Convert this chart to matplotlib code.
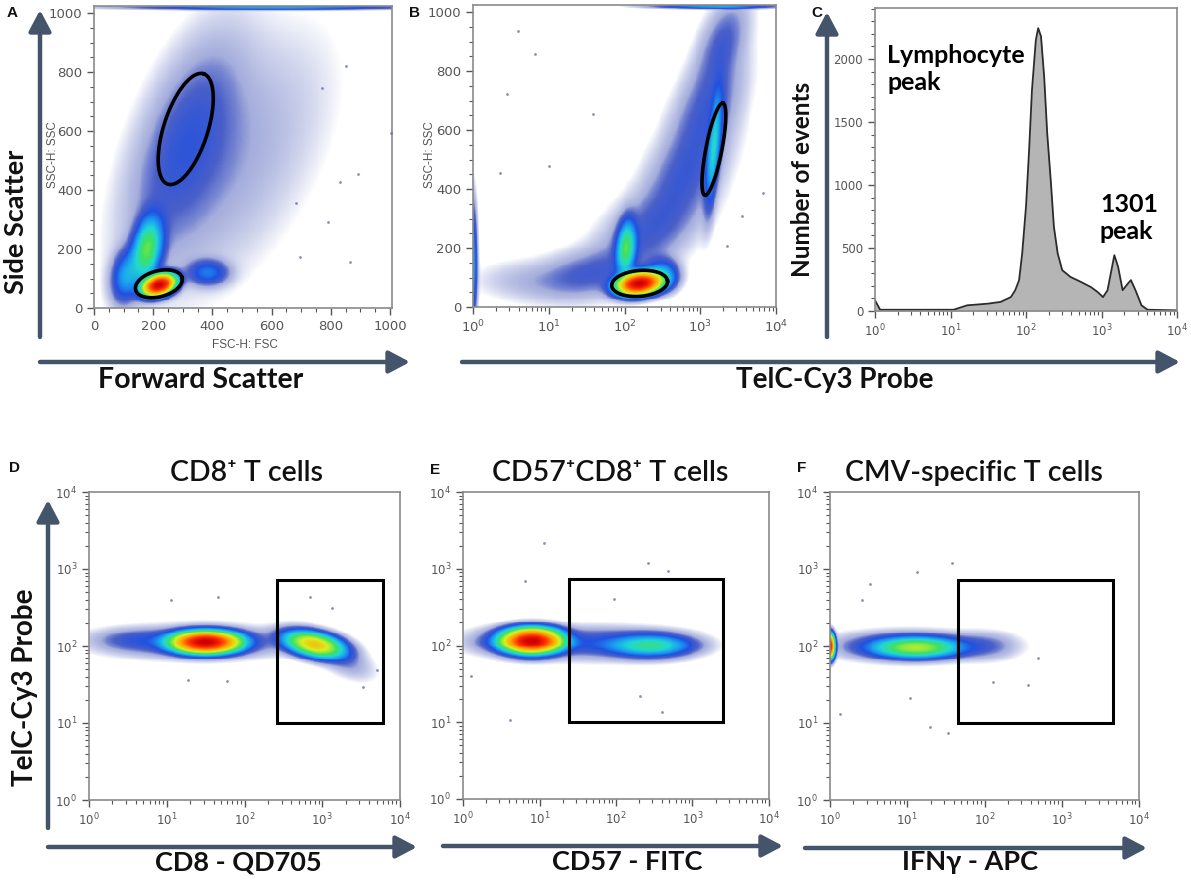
import numpy as np
import matplotlib.pyplot as plt
from matplotlib.colors import LinearSegmentedColormap
from matplotlib.patches import Rectangle
from matplotlib.ticker import MultipleLocator, FixedLocator, LogLocator, NullFormatter

W, H = 1191, 884
FONT = ['Lato', 'DejaVu Sans']
ARROW = '#44546a'
FRAME = '#8a8a8a'
TICKC = '#555555'

# ---------------- data ----------------
# populations: centre x, centre y, spread x, spread y, correlation, relative density
# A: FSC vs SSC (linear units)
a_cx = [220, 180, 110, 385, 310, 460, 600]
a_cy = [78, 200, 110, 120, 560, 480, 1019]
a_sx = [28, 28, 28, 40, 110, 190, 260]
a_sy = [19, 60, 50, 25, 210, 260, 4]
a_rho = [0.3, 0.3, 0.2, 0.0, 0.55, 0.55, 0.0]
a_amp = [1.0, 0.13, 0.045, 0.03, 0.015, 0.006, 0.045]
a_out_x = [683, 792, 865, 696, 831, 893, 1005, 769, 853]
a_out_y = [355, 291, 155, 172, 427, 456, 592, 745, 819]
# gates of A: centre, semi axes (px), angle (deg)
a_gate_cx = [219, 310]
a_gate_cy = [82, 607]
a_gate_a = [24, 58]
a_gate_b = [13, 22]
a_gate_ang = [15, 72]

# B: TelC-Cy3 (log10 units) vs SSC
b_cx = [2.2, 2.02, 2.5, 3.18, 1.5, 2.3, 2.8, 3.1, 3.3, 0.0, 3.2, 0.7]
b_cy = [80, 200, 110, 540, 110, 250, 450, 680, 900, 150, 1019, 90]
b_sx = [0.15, 0.07, 0.12, 0.06, 0.4, 0.4, 0.33, 0.28, 0.2, 0.03, 0.45, 0.4]
b_sy = [20, 50, 30, 110, 50, 90, 110, 110, 90, 110, 4, 40]
b_rho = [0.2, 0.2, 0.0, 0.6, 0.3, 0.5, 0.5, 0.5, 0.5, 0.0, 0.0, 0.0]
b_amp = [1.0, 0.12, 0.045, 0.065, 0.012, 0.012, 0.013, 0.013, 0.012, 0.045, 0.045, 0.004]
b_out_x = [0.6, 1.0, 0.45, 0.36, 1.59, 3.35, 3.55, 3.83, 0.82]
b_out_y = [937, 478, 722, 456, 654, 206, 308, 388, 858]
b_gate_cx = [2.2, 3.18]
b_gate_cy = [80, 535]
b_gate_a = [28, 47]
b_gate_b = [13, 8]
b_gate_ang = [5, 79]

# C: histogram of TelC-Cy3
c_probe = [1.0, 1.17, 11, 16.6, 31, 46, 63, 72, 81, 89, 100, 110, 120, 135, 145,
           158, 174, 191, 214, 234, 263, 302, 389, 537, 724, 891, 1047, 1202,
           1380, 1479, 1660, 1905, 2239, 2455, 2818, 3388, 4074, 10000]
c_events = [85, 10, 10, 45, 58, 72, 110, 165, 245, 456, 828, 1280, 1755, 2150, 2245,
            2180, 1860, 1410, 1015, 670, 456, 324, 270, 230, 190, 150, 110, 165,
            350, 443, 350, 165, 218, 245, 165, 45, 10, 5]

# D: CD8 vs TelC-Cy3 (log10 units both)
d_cx = [1.5, 2.9, 1.4, 3.3, 0.6]
d_cy = [2.05, 2.02, 2.05, 1.8, 2.08]
d_sx = [0.22, 0.2, 0.65, 0.2, 0.3]
d_sy = [0.07, 0.09, 0.11, 0.13, 0.08]
d_rho = [0.0, -0.4, 0.0, -0.5, 0.0]
d_amp = [1.0, 0.3, 0.02, 0.008, 0.01]
d_out_x = [1.06, 1.66, 1.27, 1.77, 2.84, 3.12, 3.53, 3.70]
d_out_y = [2.6, 2.64, 1.56, 1.54, 2.64, 2.49, 1.47, 1.69]
d_gate = [265, 6100, 10, 710]

# E: CD57 vs TelC-Cy3
e_cx = [0.9, 2.45, 1.7, 0.5]
e_cy = [2.06, 2.0, 2.03, 2.05]
e_sx = [0.2, 0.3, 0.6, 0.3]
e_sy = [0.08, 0.08, 0.11, 0.1]
e_rho = [0.0, 0.0, 0.0, 0.0]
e_amp = [1.0, 0.09, 0.02, 0.01]
e_out_x = [1.06, 2.42, 2.68, 0.81, 0.62, 2.31, 2.60, 1.97, 0.1]
e_out_y = [3.33, 3.08, 2.97, 2.84, 1.03, 1.34, 1.13, 2.60, 1.60]
e_gate = [24, 2500, 10, 740]

# F: IFNg vs TelC-Cy3
f_cx = [1.12, 1.0, 2.0, 0.0]
f_cy = [1.98, 2.0, 2.0, 2.0]
f_sx = [0.3, 0.5, 0.25, 0.03]
f_sy = [0.07, 0.1, 0.1, 0.08]
f_rho = [0.0, 0.0, 0.0, 0.0]
f_amp = [0.16, 0.025, 0.01, 0.8]
f_out_x = [0.13, 1.29, 1.53, 1.03, 1.58, 1.12, 0.52, 2.69, 2.56, 2.11, 0.41]
f_out_y = [1.12, 0.95, 0.87, 1.32, 3.08, 2.96, 2.81, 1.84, 1.49, 1.53, 2.6]
f_gate = [46, 4600, 10, 710]

# ---------------- drawing ----------------
cmap = LinearSegmentedColormap.from_list('flow', [
    (0.00, '#9aa4d8'), (0.12, '#4a5fc8'), (0.25, '#2050e0'), (0.38, '#1aa0f0'),
    (0.48, '#20d8d0'), (0.58, '#40e060'), (0.70, '#d8f020'), (0.82, '#ffa000'),
    (0.92, '#ff3000'), (1.00, '#d00000')])

fig = plt.figure(figsize=(W / 100, H / 100), dpi=100)
ov = fig.add_axes([0, 0, 1, 1])
ov.set_xlim(0, W)
ov.set_ylim(H, 0)
ov.axis('off')


def rect(l, t, r, b):
    return [l / W, 1 - b / H, (r - l) / W, (b - t) / H]


def density_rgba(U, V, cx, cy, sx, sy, rho, amp):
    d = np.zeros_like(U)
    for x0, y0, s1, s2, r, w in zip(cx, cy, sx, sy, rho, amp):
        du = (U - x0) / s1
        dv = (V - y0) / s2
        q = (du ** 2 - 2 * r * du * dv + dv ** 2) / (1 - r ** 2)
        d += w * np.exp(-0.5 * q)
    ld = np.log10(d + 1e-12)
    rgba = cmap(np.clip((ld + 2.2) / 2.2, 0, 1))
    # fade the outermost fringe into the white background
    rgba[..., 3] = np.clip((ld + 3.1) / 1.0, 0, 1)
    return rgba


def style(ax, fs):
    for s in ax.spines.values():
        s.set_color(FRAME)
        s.set_linewidth(1.2)
    ax.tick_params(which='both', colors=TICKC, labelsize=fs, direction='out')
    ax.tick_params(which='major', length=5, width=1)
    ax.tick_params(which='minor', length=3, width=0.8)


def log_axis(axis):
    axis.set_major_locator(FixedLocator([1, 10, 100, 1000, 10000]))
    axis.set_minor_locator(LogLocator(base=10, subs=np.arange(2, 10), numticks=20))
    axis.set_minor_formatter(NullFormatter())


def cyto(r, xr, yr, xlog, ylog, comps):
    ax = fig.add_axes(rect(*r))
    ex = np.linspace(xr[0], xr[1], 321)
    ey = np.linspace(yr[0], yr[1], 321)
    U, V = np.meshgrid((ex[:-1] + ex[1:]) / 2, (ey[:-1] + ey[1:]) / 2)
    rgba = density_rgba(U, V, *comps)
    X = 10 ** ex if xlog else ex
    Y = 10 ** ey if ylog else ey
    ax.pcolormesh(X, Y, rgba, shading='flat', rasterized=True)
    if xlog:
        ax.set_xscale('log')
    if ylog:
        ax.set_yscale('log')
    ax.set_xlim(X[0], X[-1])
    ax.set_ylim(Y[0], Y[-1])
    return ax


def gate_ellipse(ax, cx, cy, a, b, ang, kx, ky, xlog):
    t = np.linspace(0, 2 * np.pi, 200)
    th = np.radians(ang)
    u = a * np.cos(t) * np.cos(th) - b * np.sin(t) * np.sin(th)
    v = a * np.cos(t) * np.sin(th) + b * np.sin(t) * np.cos(th)
    x = cx + u / kx
    y = cy + v / ky
    if xlog:
        x = 10 ** x
    ax.plot(x, y, color='black', lw=2.6, zorder=5)


def outliers(ax, xs, ys, xlog, ylog):
    x = 10 ** np.array(xs) if xlog else np.array(xs)
    y = 10 ** np.array(ys) if ylog else np.array(ys)
    ax.scatter(x, y, s=4, color='#5a6aa8', alpha=0.75, lw=0, zorder=4)


# panel A
axA = cyto((94, 6, 392, 308), (0, 1007), (0, 1024), False, False,
           (a_cx, a_cy, a_sx, a_sy, a_rho, a_amp))
outliers(axA, a_out_x, a_out_y, False, False)
for i in range(len(a_gate_cx)):
    gate_ellipse(axA, a_gate_cx[i], a_gate_cy[i], a_gate_a[i], a_gate_b[i],
                 a_gate_ang[i], 0.296, 0.295, False)
axA.xaxis.set_major_locator(MultipleLocator(200))
axA.xaxis.set_minor_locator(MultipleLocator(50))
axA.yaxis.set_major_locator(MultipleLocator(200))
axA.yaxis.set_minor_locator(MultipleLocator(50))
style(axA, 9.5)

# panel B
axB = cyto((473, 5, 776, 307), (0, 4), (0, 1024), True, False,
           (b_cx, b_cy, b_sx, b_sy, b_rho, b_amp))
outliers(axB, b_out_x, b_out_y, True, False)
for i in range(len(b_gate_cx)):
    gate_ellipse(axB, b_gate_cx[i], b_gate_cy[i], b_gate_a[i], b_gate_b[i],
                 b_gate_ang[i], 75.75, 0.295, True)
log_axis(axB.xaxis)
axB.yaxis.set_major_locator(MultipleLocator(200))
axB.yaxis.set_minor_locator(MultipleLocator(50))
style(axB, 9.5)

# panel C
axC = fig.add_axes(rect(875, 8, 1177, 311))
axC.fill_between(c_probe, c_events, color='#b5b5b5', lw=0)
axC.plot(c_probe, c_events, color='#2b2b2b', lw=1.3)
axC.set_xscale('log')
axC.set_xlim(1, 10000)
axC.set_ylim(0, 2405)
log_axis(axC.xaxis)
axC.yaxis.set_major_locator(MultipleLocator(500))
axC.yaxis.set_minor_locator(MultipleLocator(100))
style(axC, 8.5)
axC.text(0.04, 0.80, 'Lymphocyte\npeak', transform=axC.transAxes, family=FONT,
         fontweight='bold', fontsize=18, ha='left', va='center', linespacing=1.2)
axC.text(0.745, 0.307, '1301\npeak', transform=axC.transAxes, family=FONT,
         fontweight='bold', fontsize=18, ha='left', va='center', linespacing=1.2)

# panels D, E, F
bottom = [
    ((89, 492, 400, 800), (d_cx, d_cy, d_sx, d_sy, d_rho, d_amp), d_out_x, d_out_y, d_gate),
    ((463, 492, 769, 799), (e_cx, e_cy, e_sx, e_sy, e_rho, e_amp), e_out_x, e_out_y, e_gate),
    ((830, 492, 1139, 800), (f_cx, f_cy, f_sx, f_sy, f_rho, f_amp), f_out_x, f_out_y, f_gate),
]
for r, comps, ox, oy, g in bottom:
    ax = cyto(r, (0, 4), (0, 4), True, True, comps)
    outliers(ax, ox, oy, True, True)
    ax.add_patch(Rectangle((g[0], g[2]), g[1] - g[0], g[3] - g[2], fill=False,
                           ec='black', lw=2.2, zorder=6))
    log_axis(ax.xaxis)
    log_axis(ax.yaxis)
    style(ax, 8.5)


# ---------------- big arrows and labels ----------------
def arrow(x0, y0, x1, y1):
    ov.annotate('', xy=(x1, y1), xytext=(x0, y0),
                arrowprops=dict(arrowstyle='-|>,head_length=0.85,head_width=0.45',
                                mutation_scale=15, lw=3.2, color=ARROW,
                                shrinkA=0, shrinkB=0))


arrow(40, 337, 40, 10)
arrow(40, 362, 410, 362)
arrow(462, 362, 1180, 362)
arrow(827, 337, 827, 12)
arrow(48, 828, 48, 500)
arrow(48, 847, 417, 847)
arrow(443, 846, 783, 846)
arrow(805, 848, 1147, 848)


def label(x, y, s, size, rot=0, weight='bold', color='#111111', fam=FONT):
    ov.text(x, y, s, fontsize=size, rotation=rot, ha='center', va='center',
            family=fam, fontweight=weight, color=color)


label(16, 222, 'Side Scatter', 19.5, rot=90)
label(201, 380, 'Forward Scatter', 20.5)
label(835, 380, 'TelC-Cy3 Probe', 20)
label(803, 179, 'Number of events', 17.5, rot=90)
label(25, 687, 'TelC-Cy3 Probe', 20, rot=90)
label(238, 862, 'CD8 - QD705', 19.5)
label(627, 862, 'CD57 - FITC', 19.5)
label(970, 862, 'IFN\u03b3 - APC', 19.5)
label(247, 473, 'CD8\u207a T cells', 20.5, weight='semibold')
label(610, 473, 'CD57\u207aCD8\u207a T cells', 20.5, weight='semibold')
label(974, 473, 'CMV-specific T cells', 20.5, weight='semibold')

for x, y, s in [(12, 13, 'A'), (415, 13, 'B'), (817, 13, 'C'),
                (15, 468, 'D'), (435, 470, 'E'), (802, 468, 'F')]:
    label(x, y, s, 11, fam=['Liberation Sans', 'DejaVu Sans'])

label(53, 155, 'SSC-H: SSC', 8.5, rot=90, weight='normal', color='#555555',
      fam=['Liberation Sans', 'DejaVu Sans'])
label(430, 155, 'SSC-H: SSC', 8.5, rot=90, weight='normal', color='#555555',
      fam=['Liberation Sans', 'DejaVu Sans'])
label(245, 345, 'FSC-H: FSC', 8.5, weight='normal', color='#555555',
      fam=['Liberation Sans', 'DejaVu Sans'])

fig.savefig('out.png', dpi=100)
